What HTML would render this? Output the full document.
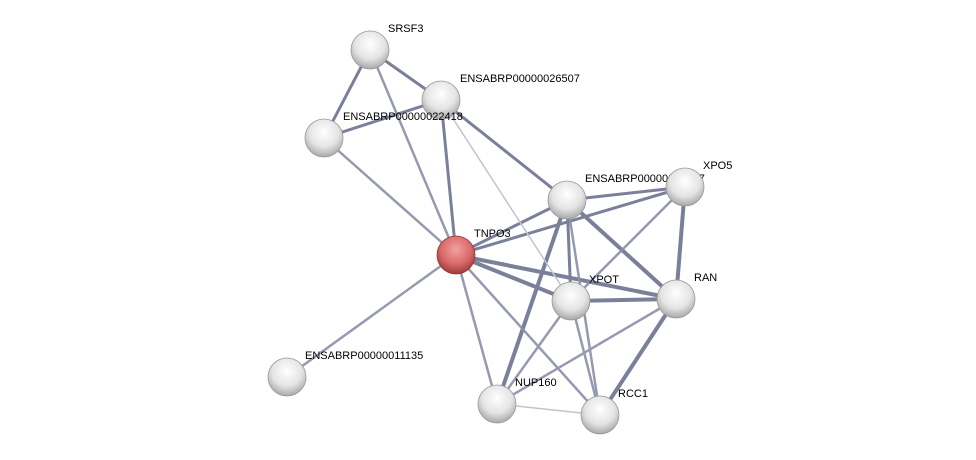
<!DOCTYPE html><html><head><style>body{margin:0;background:#fff}svg{display:block}text{font-family:"Liberation Sans",sans-serif;font-size:11px;fill:#000}</style></head><body>
<svg width="976" height="460" viewBox="0 0 976 460">
<defs>
<radialGradient id="g" cx="50%" cy="35%" r="65%"><stop offset="0" stop-color="#fff"/><stop offset="0.6" stop-color="#e4e4e4"/><stop offset="1" stop-color="#a8a8a8"/></radialGradient>
<radialGradient id="r" cx="50%" cy="35%" r="65%"><stop offset="0" stop-color="#f4a0a0"/><stop offset="0.6" stop-color="#d86a6a"/><stop offset="1" stop-color="#a03a3a"/></radialGradient>
</defs>
<g stroke-linecap="round">
<g stroke="#6c7390" stroke-width="3" opacity="0.9">
<line x1="370" y1="50" x2="441" y2="100"/><line x1="370" y1="50" x2="324" y2="138"/><line x1="441" y1="100" x2="324" y2="138"/>
<line x1="441" y1="100" x2="567" y2="200"/><line x1="441" y1="100" x2="456" y2="255"/>
<line x1="456" y1="255" x2="567" y2="200"/><line x1="456" y1="255" x2="685" y2="187"/>
<line x1="456" y1="255" x2="676" y2="299" stroke-width="4"/><line x1="456" y1="255" x2="571" y2="301" stroke-width="4"/>
<line x1="567" y1="200" x2="685" y2="187"/><line x1="567" y1="200" x2="676" y2="299" stroke-width="4"/>
<line x1="685" y1="187" x2="676" y2="299" stroke-width="4"/><line x1="571" y1="301" x2="676" y2="299" stroke-width="4"/>
<line x1="567" y1="200" x2="497" y2="404" stroke-width="4"/><line x1="676" y1="299" x2="600" y2="415" stroke-width="4"/>
<line x1="567" y1="200" x2="571" y2="301"/>
</g>
<g stroke="#8a90a8" stroke-width="2.5" opacity="0.9">
<line x1="370" y1="50" x2="456" y2="255"/><line x1="324" y1="138" x2="456" y2="255"/>
<line x1="456" y1="255" x2="287" y2="377"/><line x1="456" y1="255" x2="497" y2="404"/><line x1="456" y1="255" x2="600" y2="415"/>
<line x1="685" y1="187" x2="571" y2="301"/><line x1="567" y1="200" x2="600" y2="415"/>
<line x1="571" y1="301" x2="497" y2="404"/><line x1="571" y1="301" x2="600" y2="415"/><line x1="676" y1="299" x2="497" y2="404"/>
</g>
<g stroke="#c0c4d0" stroke-width="1.5">
<line x1="441" y1="100" x2="571" y2="301"/><line x1="497" y1="404" x2="600" y2="415"/>
</g>
</g>
<g>
<text x="388" y="32">SRSF3</text>
<text x="460" y="82">ENSABRP00000026507</text>
<text x="585" y="182">ENSABRP00000026937</text>
<text x="703" y="169">XPO5</text>
<text x="474" y="237">TNPO3</text>
<text x="589" y="283">XPOT</text>
<text x="694" y="281">RAN</text>
<text x="305" y="359">ENSABRP00000011135</text>
<text x="515" y="386">NUP160</text>
<text x="618" y="397">RCC1</text>
</g>
<g>
<circle cx="370" cy="50" r="19" fill="url(#g)" stroke="#999" stroke-width="0.8"/>
<circle cx="441" cy="100" r="19" fill="url(#g)" stroke="#999" stroke-width="0.8"/>
<circle cx="324" cy="138" r="19" fill="url(#g)" stroke="#999" stroke-width="0.8"/>
<circle cx="567" cy="200" r="19" fill="url(#g)" stroke="#999" stroke-width="0.8"/>
<circle cx="685" cy="187" r="19" fill="url(#g)" stroke="#999" stroke-width="0.8"/>
<circle cx="456" cy="255" r="19" fill="url(#r)" stroke="#933" stroke-width="0.8"/>
<circle cx="571" cy="301" r="19" fill="url(#g)" stroke="#999" stroke-width="0.8"/>
<circle cx="676" cy="299" r="19" fill="url(#g)" stroke="#999" stroke-width="0.8"/>
<circle cx="287" cy="377" r="19" fill="url(#g)" stroke="#999" stroke-width="0.8"/>
<circle cx="497" cy="404" r="19" fill="url(#g)" stroke="#999" stroke-width="0.8"/>
<circle cx="600" cy="415" r="19" fill="url(#g)" stroke="#999" stroke-width="0.8"/>
</g>
<text x="343" y="120">ENSABRP00000022418</text>
</svg></body></html>
